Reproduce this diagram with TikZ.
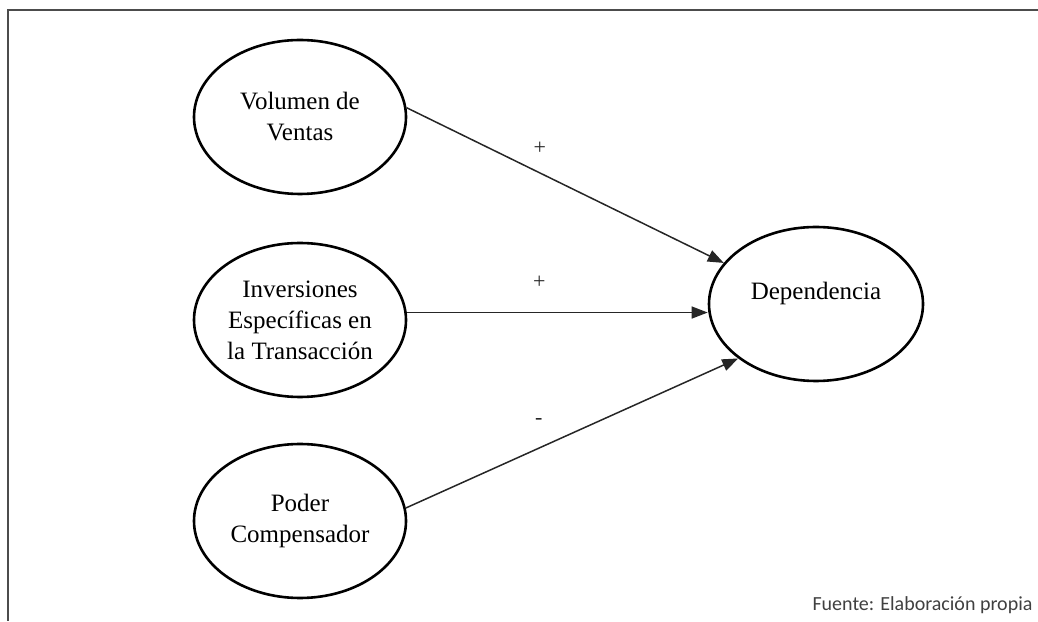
\documentclass[tikz,border=0pt]{standalone}
\usepackage{fontspec}
\setmainfont{Liberation Serif}
\newfontfamily\footfont{Carlito}
\usetikzlibrary{shapes.geometric,arrows.meta}
\begin{document}
\begin{tikzpicture}[x=1pt,y=1pt,
  factor/.style={ellipse, draw=black, line width=2.6pt, minimum width=212pt, minimum height=154pt,
    inner sep=0pt, align=center, font=\fontsize{25}{31}\selectfont, text=black},
  link/.style={draw=black!85, line width=1.5pt, -{Triangle[length=16pt,width=12pt]}},
  sign/.style={font=\fontsize{22}{22}\selectfont, anchor=base, text=black!85},
  frameline/.style={draw=black!70, line width=2.2pt}]
\useasboundingbox (0,0) rectangle (1038,621);
\coordinate (tr) at (1038,611);
\coordinate (tl) at (8,611);
\coordinate (bl) at (8,0);
\draw[frameline] (tr) -- (tl) -- (bl);

\node[factor] (vol) at (300,504) {Volumen de\\Ventas};
\node[factor] (inv) at (300,301) {Inversiones\\Específicas en\\la Transacción};
\node[factor] (pod) at (300,100) {Poder\\Compensador};
\node[factor, minimum width=214pt, text height=17pt, text depth=25pt] (dep) at (816,317) {Dependencia};

\draw[link] (vol.5) -- (dep.156) node[sign, pos=0.42, yshift=18pt] {+};
\draw[link] (inv.4) -- (inv.4 -| dep.west) node[sign, pos=0.44, yshift=24pt] {+};
\draw[link] (pod.7) -- (dep.215) node[sign, pos=0.40, yshift=24pt] {-};

\node[anchor=base east, font=\footfont\fontsize{20}{20}\selectfont, text=black!75] (src) at (1036,11) {Fuente: Elaboración propia};
\end{tikzpicture}
\end{document}
